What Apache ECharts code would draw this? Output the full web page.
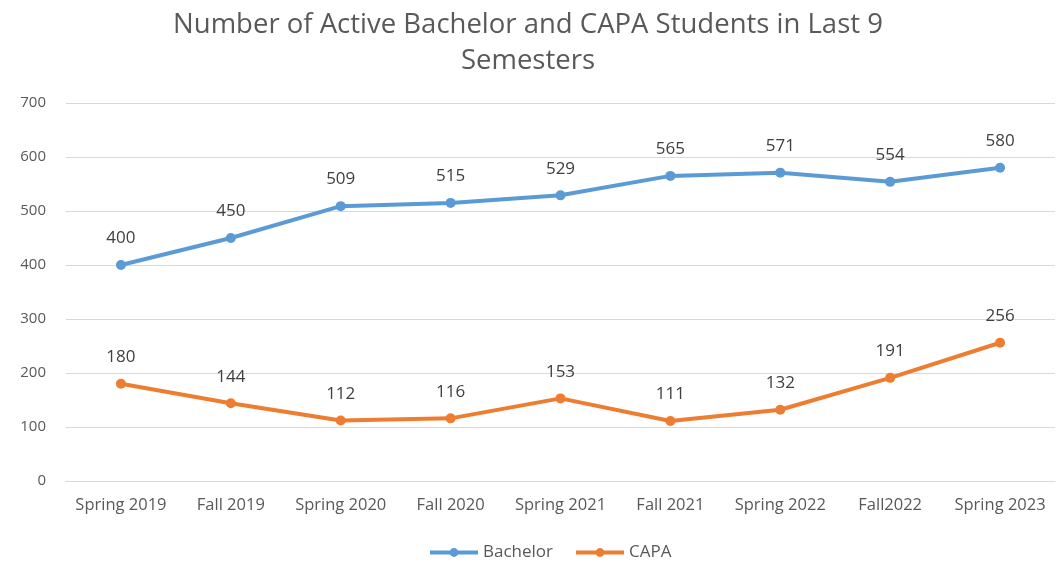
<!DOCTYPE html>
<html>
<head>
<meta charset="utf-8">
<script src="https://cdn.jsdelivr.net/npm/echarts@6/dist/echarts.min.js"></script>
<style>
  html, body { margin: 0; padding: 0; background: #fff; }
  #chart { width: 1056px; height: 564px; }
</style>
</head>
<body>
<div id="chart"></div>
<script>
// semesters and student counts
var semesters = ['Spring 2019', 'Fall 2019', 'Spring 2020', 'Fall 2020', 'Spring 2021',
                 'Fall 2021', 'Spring 2022', 'Fall2022', 'Spring 2023'];
var bachelor = [400, 450, 509, 515, 529, 565, 571, 554, 580];
var capa = [180, 144, 112, 116, 153, 111, 132, 191, 256];

var font = 'Open Sans';
var chart = echarts.init(document.getElementById('chart'));

function lineSeries(name, data, color) {
    return {
        name: name,
        type: 'line',
        data: data,
        symbol: 'circle',
        symbolSize: 10,
        lineStyle: { width: 4, color: color },
        itemStyle: { color: color },
        label: {
            show: true,
            position: 'top',
            distance: 13,
            color: '#404040',
            fontFamily: font,
            fontSize: 17
        }
    };
}

chart.setOption({
    animation: false,
    title: {
        text: 'Number of Active Bachelor and CAPA Students in Last 9\nSemesters',
        left: 'center',
        top: 2,
        textStyle: {
            color: '#595959',
            fontFamily: font,
            fontWeight: 'normal',
            fontSize: 27.5,
            lineHeight: 36
        }
    },
    legend: {
        top: 539,
        left: 423,
        itemWidth: 48,
        itemHeight: 11,
        itemGap: 21,
        lineStyle: { width: 4 },
        textStyle: { color: '#595959', fontFamily: font, fontSize: 17 },
        data: ['Bachelor', 'CAPA']
    },
    grid: { left: 66, right: 1, top: 103, bottom: 83 },
    xAxis: {
        type: 'category',
        data: semesters,
        boundaryGap: true,
        axisLine: { lineStyle: { color: '#d9d9d9' } },
        axisTick: { show: false },
        axisLabel: { color: '#595959', fontFamily: font, fontSize: 16.5, margin: 16, interval: 0 }
    },
    yAxis: {
        type: 'value',
        min: 0,
        max: 700,
        interval: 100,
        axisLine: { show: false },
        axisTick: { show: false },
        axisLabel: { color: '#595959', fontFamily: font, fontSize: 15, margin: 20 },
        splitLine: { lineStyle: { color: '#d9d9d9' } }
    },
    series: [
        lineSeries('Bachelor', bachelor, '#5B9BD5'),
        lineSeries('CAPA', capa, '#ED7D31')
    ]
});
</script>
</body>
</html>
